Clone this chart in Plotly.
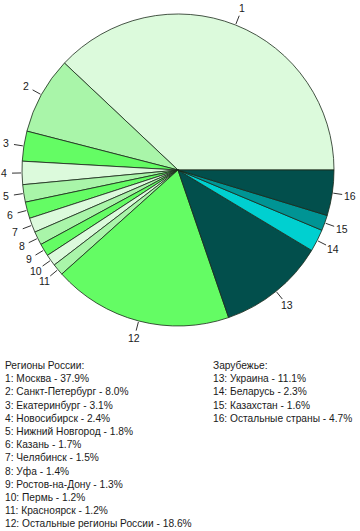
import math
import plotly.graph_objects as go

# ---- data ----
labels = [str(i) for i in range(1, 17)]
names = ["Москва", "Санкт-Петербург", "Екатеринбург", "Новосибирск", "Нижний Новгород",
         "Казань", "Челябинск", "Уфа", "Ростов-на-Дону", "Пермь", "Красноярск",
         "Остальные регионы России", "Украина", "Беларусь", "Казахстан", "Остальные страны"]
values = [37.9, 8.0, 3.1, 2.4, 1.8, 1.7, 1.5, 1.4, 1.3, 1.2, 1.2, 18.6, 11.1, 2.3, 1.6, 4.7]
group_titles = ["Регионы России:", "Зарубежье:"]
n_russia = 12

# ---- styles ----
W, H = 360, 531
LIGHT, MID, BRIGHT = "#dcfadc", "#a9f5a9", "#64fc64"
colors = [LIGHT, MID, BRIGHT] * 4 + ["#024f4c", "#00d0d0", "#009494", "#024f4c"]

cx, cy, R = 178, 170, 156  # pie centre/radius in px
total = sum(values)

# plotly's counterclockwise pies end the first slice at `rotation`;
# we want the first slice to start at 3 o'clock
rotation = 90 - values[0] / total * 360

fig = go.Figure(go.Pie(
    labels=labels, values=values, sort=False, direction="counterclockwise",
    rotation=rotation, textinfo="none", hoverinfo="label+percent",
    marker=dict(colors=colors, line=dict(color="#1a2a1a", width=0.8)),
    domain=dict(x=[(cx - R) / W, (cx + R) / W], y=[1 - (cy + R) / H, 1 - (cy - R) / H]),
    showlegend=False,
))

def px2paper(x, y):
    return x / W, 1 - y / H

cum = 0.0
annotations = []
shapes = []
for lab, v in zip(labels, values):
    mid = (cum + v / 2) / total * 2 * math.pi
    cum += v
    ca, sa = math.cos(mid), math.sin(mid)
    x0, y0 = px2paper(cx + (R + 1) * ca, cy - (R + 1) * sa)
    x1, y1 = px2paper(cx + (R + 10) * ca, cy - (R + 10) * sa)
    shapes.append(dict(type="line", xref="paper", yref="paper", x0=x0, y0=y0, x1=x1, y1=y1,
                       line=dict(color="#333333", width=1)))
    rl = R + 18
    lx, ly = px2paper(cx + rl * ca, cy - rl * sa)
    annotations.append(dict(text=lab, x=lx, y=ly, xref="paper", yref="paper",
                            xanchor="center", yanchor="middle", showarrow=False,
                            font=dict(size=10.5, color="#1a1a1a")))

font = dict(family="Arial, Liberation Sans, sans-serif", size=10.2, color="#1a1a1a")
col_x = [3, 211]
top_y = 358
step = 13.2
groups = [
    [group_titles[0]] + [f"{i+1}: {names[i]} - {values[i]:.1f}%" for i in range(n_russia)],
    [group_titles[1]] + [f"{i+1}: {names[i]} - {values[i]:.1f}%" for i in range(n_russia, len(values))],
]
for gx, lines in zip(col_x, groups):
    for k, t in enumerate(lines):
        x, y = px2paper(gx, top_y + k * step)
        annotations.append(dict(text=t, x=x, y=y, xref="paper", yref="paper",
                                xanchor="left", yanchor="top", showarrow=False, font=font))

fig.update_layout(
    width=W, height=H, margin=dict(l=0, r=0, t=0, b=0),
    paper_bgcolor="white", plot_bgcolor="white",
    font=font, annotations=annotations, shapes=shapes,
)
fig.write_html("out.html")
